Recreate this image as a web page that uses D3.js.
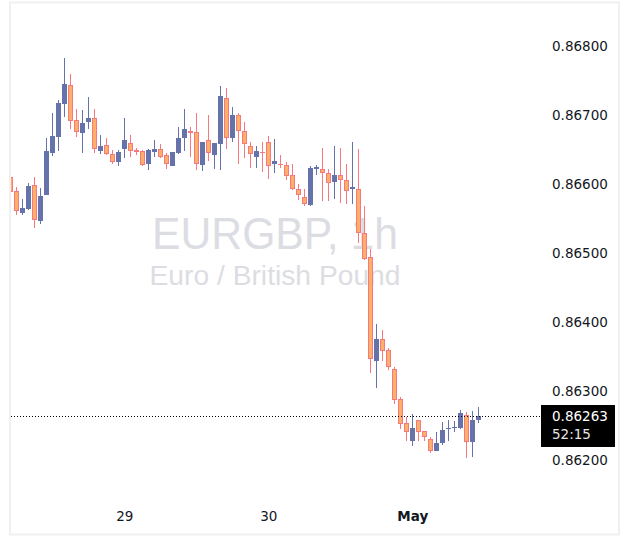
<!DOCTYPE html>
<html>
<head>
<meta charset="utf-8">
<script src="https://cdn.jsdelivr.net/npm/d3@7"></script>
<style>
  html, body { margin: 0; padding: 0; background: #ffffff; }
  svg { display: block; }
</style>
</head>
<body>
<svg id="chart" width="629" height="555"></svg>
<script>
// ---------- DATA (EURGBP, 1h) ----------
const symbolTitle = "EURGBP, 1h";
const symbolName = "Euro / British Pound";
const firstBar = new Date(2025, 3, 28, 5); // Apr 28, 05:00

const opens = [0.86610,0.86589,0.86558,0.86564,0.86598,0.86546,0.86584,0.86645,0.86668,0.86716,
  0.86743,0.86692,0.86673,0.86689,0.86695,0.86648,0.86656,0.86643,0.86631,0.86651,
  0.86659,0.86649,0.86647,0.86628,0.86646,0.86651,0.86641,0.86626,0.86644,0.86667,
  0.86676,0.86675,0.86627,0.86663,0.86642,0.86657,0.86725,0.86667,0.86700,0.86676,
  0.86654,0.86639,0.86646,0.86660,0.86628,0.86629,0.86627,0.86612,0.86593,0.86581,
  0.86569,0.86621,0.86622,0.86615,0.86602,0.86612,0.86606,0.86592,0.86593,0.86529,
  0.86493,0.86343,0.86374,0.86358,0.86331,0.86287,0.86252,0.86227,0.86257,0.86241,
  0.86230,0.86212,0.86223,0.86244,0.86246,0.86246,0.86265,0.86225,0.86257];
const highs = [0.86615,0.86595,0.86578,0.86601,0.86610,0.86594,0.86667,0.86703,0.86721,0.86782,
  0.86759,0.86709,0.86707,0.86726,0.86708,0.86671,0.86667,0.86649,0.86649,0.86695,
  0.86671,0.86652,0.86649,0.86650,0.86663,0.86658,0.86645,0.86646,0.86682,0.86708,
  0.86683,0.86702,0.86660,0.86700,0.86659,0.86742,0.86739,0.86711,0.86702,0.86690,
  0.86660,0.86655,0.86660,0.86669,0.86665,0.86641,0.86631,0.86629,0.86600,0.86593,
  0.86626,0.86627,0.86652,0.86622,0.86655,0.86652,0.86628,0.86660,0.86650,0.86568,
  0.86505,0.86397,0.86388,0.86362,0.86334,0.86291,0.86262,0.86266,0.86257,0.86241,
  0.86232,0.86240,0.86254,0.86257,0.86255,0.86272,0.86269,0.86270,0.86276];
const lows = [0.86587,0.86555,0.86555,0.86562,0.86536,0.86542,0.86583,0.86640,0.86647,0.86697,
  0.86679,0.86668,0.86644,0.86679,0.86644,0.86643,0.86642,0.86629,0.86626,0.86638,
  0.86639,0.86642,0.86626,0.86620,0.86639,0.86638,0.86622,0.86626,0.86643,0.86648,
  0.86639,0.86620,0.86619,0.86633,0.86621,0.86620,0.86651,0.86661,0.86628,0.86638,
  0.86623,0.86623,0.86617,0.86607,0.86616,0.86623,0.86605,0.86591,0.86577,0.86567,
  0.86568,0.86613,0.86575,0.86575,0.86578,0.86572,0.86571,0.86571,0.86514,0.86489,
  0.86325,0.86304,0.86342,0.86329,0.86280,0.86244,0.86226,0.86220,0.86226,0.86226,
  0.86209,0.86212,0.86221,0.86226,0.86239,0.86244,0.86202,0.86204,0.86253];
const closes = [0.86588,0.86561,0.86565,0.86597,0.86547,0.86582,0.86647,0.86669,0.86717,0.86745,
  0.86691,0.86675,0.86688,0.86695,0.86650,0.86654,0.86643,0.86632,0.86646,0.86663,
  0.86648,0.86646,0.86627,0.86649,0.86650,0.86639,0.86628,0.86646,0.86666,0.86679,
  0.86673,0.86628,0.86660,0.86644,0.86659,0.86727,0.86667,0.86700,0.86676,0.86657,
  0.86643,0.86647,0.86645,0.86625,0.86633,0.86628,0.86611,0.86593,0.86583,0.86570,
  0.86623,0.86624,0.86616,0.86601,0.86613,0.86606,0.86590,0.86595,0.86529,0.86490,
  0.86345,0.86374,0.86357,0.86334,0.86286,0.86251,0.86239,0.86246,0.86239,0.86232,
  0.86212,0.86224,0.86242,0.86246,0.86247,0.86267,0.86225,0.86257,0.86263];

const priceTicks = [0.862, 0.863, 0.864, 0.865, 0.866, 0.867, 0.868];
const dayTicks = [new Date(2025, 3, 29), new Date(2025, 3, 30), new Date(2025, 4, 1)];
const dayLabels = ["29", "30", "May"];
const countdown = "52:15";

// ---------- STYLE ----------
const upColor = "#6672aa";
const downBorder = "#f7787f";
const downFill = "#ffb068";
const textColor = "#131722";
const font = "'DejaVu Sans', sans-serif";
const wmFont = "'Liberation Sans', Arial, sans-serif";

// ---------- BUILD ----------
const times = d3.timeHour.range(firstBar, d3.timeHour.offset(firstBar, opens.length));
const bars = times.map((t, i) => ({ t, o: opens[i], h: highs[i], l: lows[i], c: closes[i] }));

const svg = d3.select("#chart");
const plot = { left: 10, right: 540, top: 3, bottom: 534 };

const x = d3.scaleTime()
  .domain([times[0], times[times.length - 1]])
  .range([10.3, 478.3]);
const y = d3.scaleLinear()
  .domain([0.862, 0.868])
  .range([459.3, 45.9]);

svg.append("defs").append("clipPath").attr("id", "plotclip")
  .append("rect").attr("x", plot.left + 1).attr("y", plot.top)
  .attr("width", plot.right - plot.left - 1).attr("height", plot.bottom - plot.top);

// watermark
const cxw = (plot.left + plot.right) / 2;
svg.append("text")
  .attr("x", cxw - 123).attr("y", 249)
  .attr("font-family", wmFont).attr("font-size", 44)
  .attr("textLength", 246).attr("lengthAdjust", "spacingAndGlyphs")
  .attr("fill", "#dcdde2")
  .text(symbolTitle);
svg.append("text")
  .attr("x", cxw - 125.5).attr("y", 285)
  .attr("font-family", wmFont).attr("font-size", 27.5)
  .attr("textLength", 251).attr("lengthAdjust", "spacingAndGlyphs")
  .attr("fill", "#dcdde2")
  .text(symbolName);

// candles
const g = svg.append("g").attr("clip-path", "url(#plotclip)");
const candle = g.selectAll("g.candle").data(bars).join("g").attr("class", "candle");
candle.each(function (d) {
  const sel = d3.select(this);
  const cx = Math.round(x(d.t));
  const up = d.c >= d.o;
  const top = Math.round(y(Math.max(d.o, d.c)));
  const bot = Math.round(y(Math.min(d.o, d.c)));
  const hgt = Math.max(1, bot - top);
  sel.append("rect")
    .attr("x", cx).attr("width", 1)
    .attr("y", Math.round(y(d.h))).attr("height", Math.max(1, Math.round(y(d.l)) - Math.round(y(d.h))))
    .attr("fill", up ? upColor : downBorder);
  sel.append("rect")
    .attr("x", cx - 2).attr("width", 5)
    .attr("y", top).attr("height", hgt)
    .attr("fill", up ? upColor : downBorder);
  if (!up && hgt > 2) {
    sel.append("rect")
      .attr("x", cx - 1).attr("width", 3)
      .attr("y", top + 1).attr("height", hgt - 2)
      .attr("fill", downFill);
  }
});

// last price dotted line
const last = bars[bars.length - 1];
const ly = Math.round(y(last.c)) + 0.5;
svg.append("line")
  .attr("x1", plot.left + 1).attr("x2", plot.right)
  .attr("y1", ly).attr("y2", ly)
  .attr("stroke", "#000").attr("stroke-width", 1)
  .attr("stroke-dasharray", "1,2");

// price axis
const yAxis = d3.axisRight(y).tickValues(priceTicks).tickFormat(d3.format(".5f"))
  .tickSize(0).tickPadding(0);
const ya = svg.append("g").attr("transform", "translate(552,0)").call(yAxis);
ya.select(".domain").remove();
ya.selectAll("text")
  .attr("font-family", font).attr("font-size", 13.5)
  .attr("fill", textColor).attr("dy", "0.35em");

// price label
svg.append("rect")
  .attr("x", 541).attr("y", ly - 11.5).attr("width", 74).attr("height", 42)
  .attr("fill", "#000");
svg.append("text")
  .attr("x", 552).attr("y", ly).attr("dy", "0.36em")
  .attr("font-family", font).attr("font-size", 13.5).attr("fill", "#fff")
  .text(d3.format(".5f")(last.c));
svg.append("text")
  .attr("x", 552).attr("y", ly + 18).attr("dy", "0.36em")
  .attr("font-family", font).attr("font-size", 13.5).attr("fill", "#e6e6e6")
  .text(countdown);

// time axis
const xAxis = d3.axisBottom(x).tickValues(dayTicks)
  .tickFormat((d, i) => dayLabels[i]).tickSize(0).tickPadding(0);
const xa = svg.append("g").attr("transform", "translate(0,511)").call(xAxis);
xa.select(".domain").remove();
xa.selectAll("text")
  .attr("font-family", font).attr("font-size", 13.5)
  .attr("fill", textColor)
  .attr("font-weight", (d, i) => dayLabels[i] === "May" ? "bold" : "normal");

// frame
svg.append("rect")
  .attr("x", 10).attr("y", 2.5).attr("width", 609).attr("height", 532)
  .attr("fill", "none").attr("stroke", "#f0f0f0").attr("stroke-width", 2);
</script>
</body>
</html>
